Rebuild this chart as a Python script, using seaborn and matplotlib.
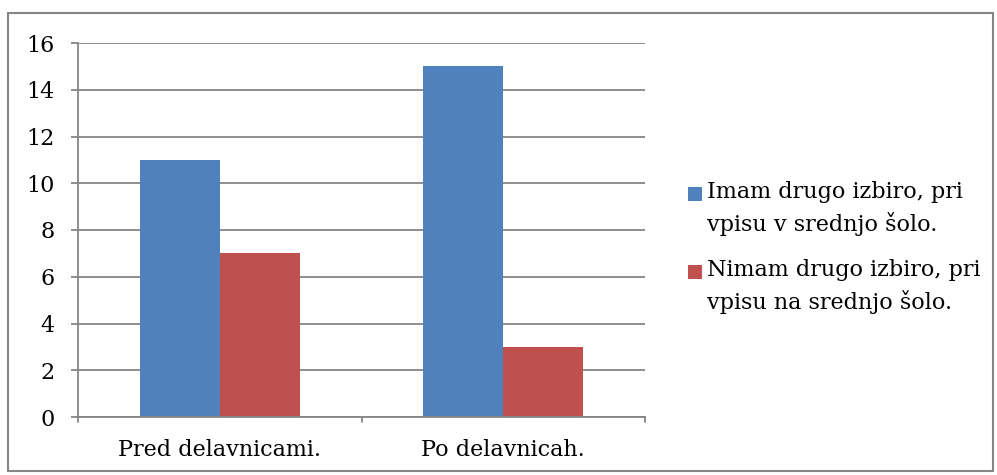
import matplotlib
matplotlib.use("Agg")
import matplotlib.pyplot as plt
import pandas as pd
import seaborn as sns
from matplotlib.patches import Rectangle

categories = ["Pred delavnicami.", "Po delavnicah."]
series = ["Imam drugo izbiro, pri\nvpisu v srednjo šolo.",
          "Nimam drugo izbiro, pri\nvpisu na srednjo šolo."]
colors = ["#4F81BD", "#C0504D"]
imam = [11, 15]
nimam = [7, 3]
yticks = [0, 2, 4, 6, 8, 10, 12, 14, 16]

df = pd.DataFrame({
    "kategorija": categories * 2,
    "serija": [series[0]] * 2 + [series[1]] * 2,
    "vrednost": imam + nimam,
})

sns.set_style("white")
plt.rcParams["font.family"] = ["DejaVu Serif"]

W, H = 997, 475
fig = plt.figure(figsize=(W / 100, H / 100), dpi=100)
ax = fig.add_axes([78 / W, 1 - 417 / H, (645 - 78) / W, (417 - 43) / H])

sns.barplot(data=df, x="kategorija", y="vrednost", hue="serija",
            palette=colors, width=0.565, saturation=1, linewidth=0,
            ax=ax, legend=False)

ax.set_ylim(0, 16)
ax.set_xlim(-0.5, 1.5)
ax.set_yticks(yticks)
ax.set_yticklabels([str(t) for t in yticks], fontsize=16, color="black")
ax.tick_params(axis="x", labelsize=16, labelcolor="black", length=0, pad=16)
ax.tick_params(axis="y", length=5, color="#868686", width=1.3, direction="out", left=True, pad=12)
ax.grid(axis="y", color="#868686", linewidth=1.3)
ax.set_axisbelow(True)
for s in ["top", "right"]:
    ax.spines[s].set_visible(False)
for s in ["left", "bottom"]:
    ax.spines[s].set_color("#868686")
    ax.spines[s].set_linewidth(1.3)
ax.set_xlabel("")
ax.set_ylabel("")

# category separator ticks on the x axis
for xt in [-0.5, 0.5, 1.5]:
    ax.plot([xt, xt], [0, -0.2], color="#868686", lw=1.3, clip_on=False)

# legend: square aligned with the first line of each two-line label
for i, (lab, col) in enumerate(zip(series, colors)):
    top = 187 + i * 78
    fig.patches.append(Rectangle((688 / W, 1 - (top + 14) / H), 14 / W, 14 / H,
                                 transform=fig.transFigure, facecolor=col, edgecolor="none"))
    fig.text(707 / W, 1 - (top - 6) / H, lab, fontsize=16, va="top", ha="left",
             linespacing=1.45, color="black")

fig.patches.append(Rectangle((8 / W, 1 - 471 / H), 985 / W, 458 / H,
                             transform=fig.transFigure, fill=False,
                             edgecolor="#868686", linewidth=1.5))

fig.savefig("out.png", dpi=100)
